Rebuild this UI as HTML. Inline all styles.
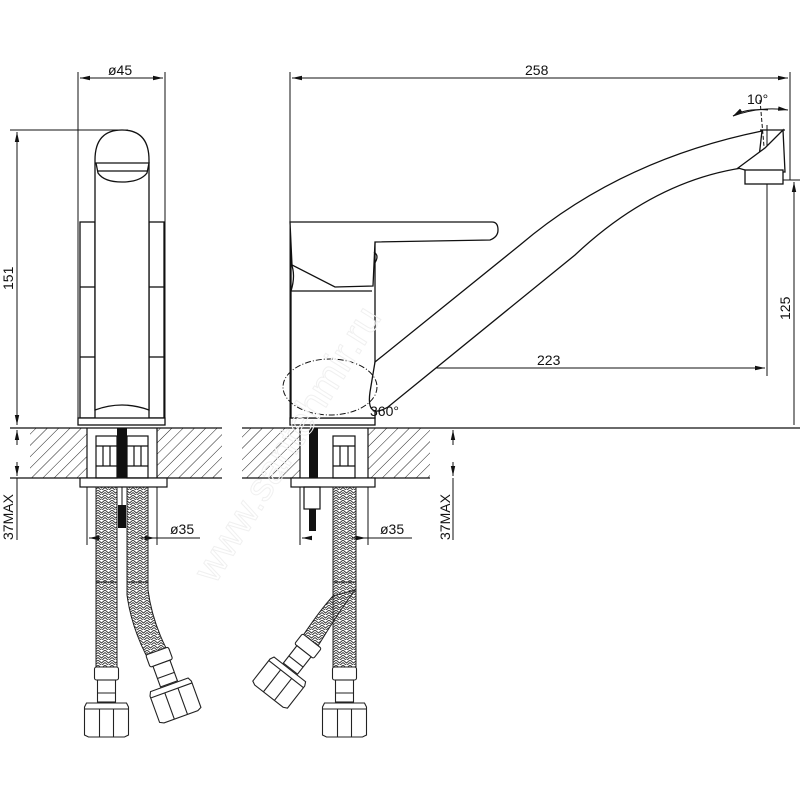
<!DOCTYPE html>
<html><head><meta charset="utf-8"><style>
html,body{margin:0;padding:0;background:#fff;}
svg{display:block;}
text{font-family:"Liberation Sans",sans-serif;font-size:14px;fill:#111;}
</style></head><body>
<svg width="800" height="800" viewBox="0 0 800 800" xmlns="http://www.w3.org/2000/svg">
<defs>
<pattern id="hatch" width="8" height="8" patternUnits="userSpaceOnUse" patternTransform="rotate(45)">
<line x1="0" y1="0" x2="0" y2="8" stroke="#222" stroke-width="1"/>
</pattern>
<pattern id="braid" width="7" height="5" patternUnits="userSpaceOnUse">
<path d="M0,0 L3.5,3 L7,0 M0,2.5 L3.5,5.5 L7,2.5" stroke="#333" stroke-width="0.9" fill="none"/>
</pattern>
<marker id="ar" markerWidth="10" markerHeight="6" refX="10" refY="3" orient="auto" markerUnits="userSpaceOnUse">
<path d="M0,0.8 L10,3 L0,5.2z" fill="#111"/>
</marker>
<g id="nut" fill="#fff" stroke="#222" stroke-width="1.1">
<rect x="-12" y="0" width="24" height="13" rx="2"/>
<rect x="-9" y="13" width="18" height="22"/>
<line x1="-9" y1="26" x2="9" y2="26"/>
<path d="M-20,36 L20,36 L22,40 L22,68 L18,70 L-18,70 L-22,68 L-22,40z"/>
<line x1="-22" y1="42" x2="22" y2="42"/>
<line x1="-7" y1="42" x2="-7" y2="70"/>
<line x1="7" y1="42" x2="7" y2="70"/>
</g>
</defs>

<g stroke="#111" stroke-width="1" fill="none">
<line x1="78" y1="72" x2="78" y2="425"/>
<line x1="165" y1="72" x2="165" y2="425"/>
<line x1="80" y1="78" x2="163" y2="78" marker-end="url(#ar)"/>
<line x1="163" y1="78" x2="80" y2="78" marker-end="url(#ar)"/>
<line x1="10" y1="130" x2="128" y2="130"/>
<line x1="17" y1="133" x2="17" y2="425" marker-end="url(#ar)"/>
<line x1="17" y1="422" x2="17" y2="132" marker-end="url(#ar)"/>
</g>
<text x="108" y="75">ø45</text>
<text transform="translate(13,290) rotate(-90)">151</text>

<g stroke="#111" stroke-width="1.3" fill="#fff">
<rect x="80" y="222" width="15" height="196"/>
<rect x="149" y="222" width="15" height="196"/>
<line x1="80" y1="287" x2="95" y2="287"/><line x1="149" y1="287" x2="164" y2="287"/>
<line x1="80" y1="357" x2="95" y2="357"/><line x1="149" y1="357" x2="164" y2="357"/>
<path d="M95,410 L95,160 Q95,130 122,130 Q149,130 149,160 L149,410 Q122,400 95,410z"/>
<path d="M96,163 L149,163 L147,173 Q140,182 122,182 Q104,182 98,173z"/>
<line x1="97" y1="171" x2="147" y2="171"/>
<rect x="78" y="418" width="87" height="7"/>
</g>

<rect x="30" y="428" width="57" height="50" fill="url(#hatch)"/>
<rect x="157" y="428" width="65" height="50" fill="url(#hatch)"/>
<g stroke="#111" stroke-width="1.2" fill="none">
<line x1="10" y1="428" x2="222" y2="428"/>
<line x1="10" y1="478" x2="222" y2="478"/>
<line x1="87" y1="428" x2="87" y2="478"/><line x1="157" y1="428" x2="157" y2="478"/>
<rect x="80" y="478" width="87" height="9" fill="#fff"/>
<rect x="96" y="436" width="21" height="42"/><rect x="127" y="436" width="21" height="42"/>
<line x1="96" y1="446" x2="117" y2="446"/><line x1="127" y1="446" x2="148" y2="446"/>
<line x1="96" y1="466" x2="117" y2="466"/><line x1="127" y1="466" x2="148" y2="466"/>
<line x1="103" y1="446" x2="103" y2="466"/><line x1="110" y1="446" x2="110" y2="466"/>
<line x1="134" y1="446" x2="134" y2="466"/><line x1="141" y1="446" x2="141" y2="466"/>
</g>
<rect x="117" y="428" width="10" height="50" fill="#111"/>
<rect x="118" y="505" width="8" height="23" fill="#111"/>
<line x1="122" y1="487" x2="122" y2="505" stroke="#111"/>
<rect x="96" y="487" width="21" height="180" fill="url(#braid)" stroke="#222"/>
<path d="M127,487 L148,487 L148,590 Q152,620 166,648 L146,655 Q131,625 127,595z" fill="url(#braid)" stroke="#222"/>
<line x1="96" y1="582" x2="117" y2="582" stroke="#222"/><line x1="127" y1="582" x2="148" y2="582" stroke="#222"/>
<use href="#nut" transform="translate(106.5,667)"/>
<use href="#nut" transform="translate(157,651) rotate(-20)"/>
<g stroke="#111" stroke-width="1" fill="none">
<line x1="17" y1="445" x2="17" y2="430" marker-end="url(#ar)"/>
<line x1="17" y1="462" x2="17" y2="476" marker-end="url(#ar)"/>
<line x1="17" y1="478" x2="17" y2="540"/>
<line x1="87" y1="487" x2="87" y2="545"/><line x1="157" y1="487" x2="157" y2="545"/>
<line x1="100" y1="538" x2="89" y2="538" marker-end="url(#ar)"/>
<line x1="140" y1="538" x2="155" y2="538" marker-end="url(#ar)"/>
<line x1="155" y1="538" x2="200" y2="538"/>
</g>
<text transform="translate(13,540) rotate(-90)">37MAX</text>
<text x="170" y="534">ø35</text>

<g stroke="#111" stroke-width="1" fill="none">
<line x1="290" y1="72" x2="290" y2="425"/>
<line x1="790" y1="72" x2="790" y2="180"/>
<line x1="292" y1="78" x2="788" y2="78" marker-end="url(#ar)"/>
<line x1="788" y1="78" x2="292" y2="78" marker-end="url(#ar)"/>
<line x1="767" y1="125" x2="767" y2="376"/>
<line x1="330" y1="368" x2="765" y2="368" marker-end="url(#ar)"/>
<line x1="345" y1="368" x2="332" y2="368" marker-end="url(#ar)"/>
<line x1="332" y1="368" x2="332" y2="412"/>
<line x1="755" y1="180" x2="800" y2="180"/>
<line x1="794" y1="185" x2="794" y2="425"/>
<line x1="794" y1="200" x2="794" y2="182" marker-end="url(#ar)"/>
<path d="M733,116 Q760,106 788,110" marker-end="url(#ar)"/>
<path d="M768,110 Q745,108 733,116" marker-end="url(#ar)"/>
<line x1="760" y1="100" x2="766" y2="170" stroke-dasharray="4,2"/>
</g>
<text x="525" y="75">258</text>
<text x="537" y="365">223</text>
<text x="747" y="104">10°</text>
<text transform="translate(790,320) rotate(-90)">125</text>

<g stroke="#111" stroke-width="1.3" fill="#fff">
<rect x="290" y="418" width="85" height="7"/>
<path d="M291,242 L291,418 L375,418 L375,242z"/>
<line x1="291" y1="291" x2="372" y2="291"/>
<path d="M291,263 Q296,275 291,291" fill="none"/>
<path d="M290,222 L492,222 Q498,222 498,230 Q498,237 490,240 L375,242 L373,286 L335,287 L292,265z"/>
<path d="M374,252 Q380,256 374,264" fill="none"/>
<path d="M375,362 L520,245 Q620,160 762,131 L758,166 Q660,175 575,255 L388,407 Q366,420 370,392z"/>
<path d="M738,168 L765,148 L783,130 L785,172 L752,172z"/>
<rect x="745" y="170" width="38" height="14"/>
<line x1="760" y1="130" x2="785" y2="130"/>
</g>
<ellipse cx="330" cy="387" rx="47" ry="28" fill="none" stroke="#111" stroke-dasharray="6,2,1,2"/>
<text x="370" y="416">360°</text>

<rect x="242" y="428" width="58" height="50" fill="url(#hatch)"/>
<rect x="368" y="428" width="62" height="50" fill="url(#hatch)"/>
<g stroke="#111" stroke-width="1.2" fill="none">
<line x1="242" y1="428" x2="800" y2="428"/>
<line x1="242" y1="478" x2="430" y2="478"/>
<line x1="300" y1="428" x2="300" y2="478"/><line x1="368" y1="428" x2="368" y2="478"/>
<rect x="291" y="478" width="84" height="9" fill="#fff"/>
<rect x="333" y="436" width="22" height="42"/>
<line x1="333" y1="446" x2="355" y2="446"/><line x1="333" y1="466" x2="355" y2="466"/>
<line x1="340" y1="446" x2="340" y2="466"/><line x1="348" y1="446" x2="348" y2="466"/>
<rect x="304" y="487" width="16" height="22"/>
</g>
<rect x="309" y="428" width="9" height="50" fill="#111"/>
<rect x="309" y="509" width="7" height="22" fill="#111"/>
<path d="M355,590 Q340,610 318,646 L300,640 Q320,610 333,596z" fill="url(#braid)" stroke="#222"/>
<rect x="333" y="487" width="23" height="180" fill="url(#braid)" stroke="#222"/>
<line x1="333" y1="582" x2="356" y2="582" stroke="#222"/>
<use href="#nut" transform="translate(344.5,667)"/>
<use href="#nut" transform="translate(312,641) rotate(38)"/>
<g stroke="#111" stroke-width="1" fill="none">
<line x1="453" y1="445" x2="453" y2="430" marker-end="url(#ar)"/>
<line x1="453" y1="462" x2="453" y2="476" marker-end="url(#ar)"/>
<line x1="453" y1="478" x2="453" y2="540"/>
<line x1="300" y1="487" x2="300" y2="545"/><line x1="368" y1="487" x2="368" y2="545"/>
<line x1="312" y1="538" x2="302" y2="538" marker-end="url(#ar)"/>
<line x1="352" y1="538" x2="366" y2="538" marker-end="url(#ar)"/>
<line x1="366" y1="538" x2="412" y2="538"/>
</g>
<text transform="translate(450,540) rotate(-90)">37MAX</text>
<text x="380" y="534">ø35</text>
<text transform="translate(215,585) rotate(-58)" style="font-size:40px;fill:none;stroke:#f0f0f0;stroke-width:1">www.santehmir.ru</text>
</svg>
</body></html>
